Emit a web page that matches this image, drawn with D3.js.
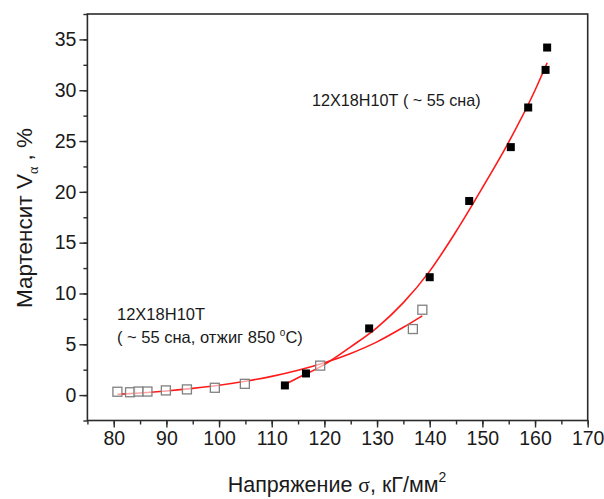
<!DOCTYPE html>
<html>
<head>
<meta charset="utf-8">
<script src="https://cdn.jsdelivr.net/npm/d3@7"></script>
<style>
  html, body { margin: 0; padding: 0; background: #fff; }
  svg text { font-family: Arial, "Liberation Sans", sans-serif; fill: #1a1a1a; }
</style>
</head>
<body>
<svg id="chart" width="604" height="499"></svg>
<script>
// ---- data ----
// 12Х18Н10Т (~55 сна): filled squares
const filledX = [112.5, 116.5, 128.5, 140.0, 147.5, 155.4, 158.7, 162.0, 162.3];
const filledY = [0.95, 2.13, 6.56, 11.6, 19.1, 24.4, 28.3, 32.0, 34.2];
// 12Х18Н10Т (~55 сна, отжиг 850 °C): open squares
const openX = [80.7, 83.1, 84.7, 86.4, 89.9, 93.9, 99.2, 104.9, 119.2, 136.8, 138.6];
const openY = [0.33, 0.28, 0.35, 0.35, 0.46, 0.56, 0.72, 1.11, 2.9, 6.5, 8.4];
// fitted curves
const fit1X = [112.5, 115, 120, 125, 130, 135, 140, 145, 150, 155, 160, 162.3];
const fit1Y = [1.05, 1.7, 3.0, 4.75, 6.65, 9.1, 12.2, 16.1, 20.4, 24.9, 30.0, 32.7];
const fit2X = [80.7, 85, 90, 95, 100, 105, 110, 115, 120, 125, 130, 135, 138.6];
const fit2Y = [0.07, 0.21, 0.41, 0.66, 0.97, 1.36, 1.84, 2.44, 3.18, 4.10, 5.24, 6.67, 7.8];
// ticks
const xTicks = [80, 90, 100, 110, 120, 130, 140, 150, 160, 170];
const yTicks = [0, 5, 10, 15, 20, 25, 30, 35];

// ---- layout ----
const svg = d3.select("#chart");
const L = 87.4, R = 587.7, T = 14, B = 420.5;
const x = d3.scaleLinear().domain([75, 170]).range([L, R]);
const y = d3.scaleLinear().domain([-2.5, 37.5]).range([B, T]);
const axisColor = "#2b2b2b";
const tickFont = 19.5;

// frame
svg.append("rect").attr("x", L).attr("y", T).attr("width", R - L).attr("height", B - T)
  .attr("fill", "none").attr("stroke", axisColor).attr("stroke-width", 1.6);

// x axis
const xMinor = d3.range(75, 171, 5);
const xg = svg.append("g").attr("transform", `translate(0,${B})`);
xg.call(d3.axisBottom(x).tickValues(xMinor).tickSize(4).tickFormat(""));
xg.select(".domain").remove();
const xg2 = svg.append("g").attr("transform", `translate(0,${B})`);
xg2.call(d3.axisBottom(x).tickValues(xTicks).tickSize(7).tickPadding(4).tickFormat(d3.format("d")));
xg2.select(".domain").remove();
xg2.selectAll("text").attr("font-size", tickFont).attr("fill", "#1a1a1a").attr("font-family", "Arial, 'Liberation Sans', sans-serif");

// y axis
const yMinor = d3.range(-2.5, 37.6, 2.5);
const yg = svg.append("g").attr("transform", `translate(${L},0)`);
yg.call(d3.axisLeft(y).tickValues(yMinor).tickSize(4).tickFormat(""));
yg.select(".domain").remove();
const yg2 = svg.append("g").attr("transform", `translate(${L},0)`);
yg2.call(d3.axisLeft(y).tickValues(yTicks).tickSize(8).tickPadding(3).tickFormat(d3.format("d")));
yg2.select(".domain").remove();
svg.selectAll(".tick line").attr("stroke", axisColor).attr("stroke-width", 1.4);
yg2.selectAll("text").attr("font-size", tickFont).attr("fill", "#1a1a1a").attr("font-family", "Arial, 'Liberation Sans', sans-serif");

// fit curves
const line = d3.line().x(d => x(d[0])).y(d => y(d[1])).curve(d3.curveMonotoneX);
svg.append("path").datum(d3.zip(fit2X, fit2Y)).attr("d", line)
  .attr("fill", "none").attr("stroke", "#ff1a1a").attr("stroke-width", 1.6);
svg.append("path").datum(d3.zip(fit1X, fit1Y)).attr("d", line)
  .attr("fill", "none").attr("stroke", "#ff1a1a").attr("stroke-width", 1.6);

// open squares
const so = 9;
svg.append("g").selectAll("rect").data(d3.zip(openX, openY)).join("rect")
  .attr("x", d => x(d[0]) - so / 2).attr("y", d => y(d[1]) - so / 2)
  .attr("width", so).attr("height", so)
  .attr("fill", "#fff").attr("fill-opacity", 0.6).attr("stroke", "#808080").attr("stroke-width", 1.3);

// filled squares
const sf = 8;
svg.append("g").selectAll("rect").data(d3.zip(filledX, filledY)).join("rect")
  .attr("x", d => x(d[0]) - sf / 2).attr("y", d => y(d[1]) - sf / 2)
  .attr("width", sf).attr("height", sf).attr("fill", "#000");

// annotations
svg.append("text").attr("x", 312).attr("y", 106).attr("font-size", 16.2)
  .text("12Х18Н10Т ( ~ 55 сна)");
svg.append("text").attr("x", 117).attr("y", 320).attr("font-size", 16.5)
  .text("12Х18Н10Т");
const a2 = svg.append("text").attr("x", 117).attr("y", 343).attr("font-size", 16.5);
a2.append("tspan").text("( ~ 55 сна, отжиг 850 ");
a2.append("tspan").attr("font-size", 10).attr("dy", -7).text("o");
a2.append("tspan").attr("dy", 7).text("C)");

// x title
const xt = svg.append("text").attr("x", 337).attr("y", 492).attr("text-anchor", "middle").attr("font-size", 21.5);
xt.append("tspan").text("Напряжение ");
xt.append("tspan").attr("font-family", "'Liberation Serif', 'DejaVu Serif', serif").text("σ");
xt.append("tspan").text(", кГ/мм");
xt.append("tspan").attr("font-size", 14).attr("dy", -10).text("2");

// y title
const yt = svg.append("text").attr("transform", "translate(32,218) rotate(-90)")
  .attr("text-anchor", "middle").attr("font-size", 22.5);
yt.append("tspan").text("Мартенсит V");
yt.append("tspan").attr("font-size", 14).attr("dy", 6).attr("font-family", "'Liberation Serif', serif").text("α");
yt.append("tspan").attr("dy", -6).text(" , %");
</script>
</body>
</html>
